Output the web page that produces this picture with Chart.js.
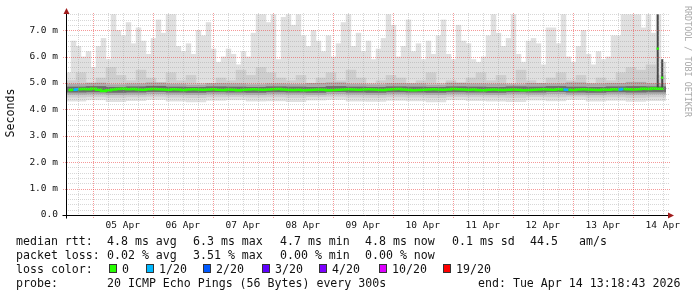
<!DOCTYPE html>
<html lang="en">
<head>
  <meta charset="UTF-8" />
  <title>Smokeping - median rtt</title>
  <script src="https://cdn.jsdelivr.net/npm/chart.js@4"></script>
  <style>
    body { margin: 0; background: #fff; }
    #wrap { position: relative; width: 697px; height: 297px; overflow: hidden; }
    #wrap canvas { position: absolute; left: 0; top: 0; }
    .t { position: absolute; font-family: "DejaVu Sans Mono", monospace; font-size: 11.6px;
         line-height: 14px; color: #111; white-space: pre; }
    .box { position: absolute; width: 6px; height: 7px; border: 1px solid #333; }
    #ytitle { left: -40px; top: 106px; width: 100px; text-align: center; transform: rotate(-90deg); }
    #credit { left: 633px; top: 54px; width: 110px; text-align: center; font-size: 8.4px;
              color: #a8a8a8; transform: rotate(90deg); }
  </style>
</head>

<body>
  <div id="wrap">
    <canvas id="smoke" width="697" height="297"></canvas>
    <div class="t" id="ytitle">Seconds</div>
    <div class="t" id="credit">RRDTOOL / TOBI OETIKER</div>

    <div class="t" style="left:16px;top:234px">median rtt:</div>
    <div class="t" style="left:107px;top:234px">4.8 ms avg</div>
    <div class="t" style="left:193px;top:234px">6.3 ms max</div>
    <div class="t" style="left:280px;top:234px">4.7 ms min</div>
    <div class="t" style="left:365px;top:234px">4.8 ms now</div>
    <div class="t" style="left:452px;top:234px">0.1 ms sd</div>
    <div class="t" style="left:530px;top:234px">44.5</div>
    <div class="t" style="left:579px;top:234px">am/s</div>

    <div class="t" style="left:16px;top:248px">packet loss:</div>
    <div class="t" style="left:107px;top:248px">0.02 % avg</div>
    <div class="t" style="left:193px;top:248px">3.51 % max</div>
    <div class="t" style="left:280px;top:248px">0.00 % min</div>
    <div class="t" style="left:365px;top:248px">0.00 % now</div>

    <div class="t" style="left:16px;top:262px">loss color:</div>
    <div id="losslegend"></div>

    <div class="t" style="left:16px;top:276px">probe:</div>
    <div class="t" style="left:107px;top:276px">20 ICMP Echo Pings (56 Bytes) every 300s</div>
    <div class="t" style="left:478px;top:276px">end: Tue Apr 14 13:18:43 2026</div>
  </div>

  <script>
    // time axis in hours since Apr 4 00:00, window = 10 days ending Apr 14 13:18:43
    const startHour = 13.31;
    const endHour = 253.31;
    const dayLabels = ["05 Apr", "06 Apr", "07 Apr", "08 Apr", "09 Apr",
                       "10 Apr", "11 Apr", "12 Apr", "13 Apr", "14 Apr"];

    // loss colours (smokeping defaults)
    const lossLabels = ["0", "1/20", "2/20", "3/20", "4/20", "10/20", "19/20"];
    const lossColors = ["#26ff00", "#00b8ff", "#0059ff", "#5e00ff", "#7e00ff", "#dd00ff", "#ff0000"];

    // 2h columns: max ping (top of smoke) and median rtt, in ms
    const maxRtt = [
      5.4, 6.6, 6.4, 6.0, 6.2, 5.6, 6.4, 6.7, 5.9, 7.6,
      7.0, 6.8, 7.3, 6.5, 7.1, 6.6, 6.1, 6.7, 7.4, 6.9,
      7.6, 7.6, 6.4, 6.2, 6.5, 6.1, 7.0, 6.8, 7.3, 6.3,
      5.8, 6.0, 6.3, 6.1, 5.7, 6.2, 6.0, 6.9, 7.6, 7.6,
      7.3, 7.6, 5.9, 7.5, 7.6, 7.2, 7.6, 6.8, 6.4, 7.0,
      6.6, 6.2, 6.8, 6.0, 6.5, 7.3, 7.6, 6.4, 6.9, 6.2,
      6.6, 5.9, 6.3, 6.7, 7.6, 7.2, 6.0, 6.4, 7.4, 6.2,
      6.5, 5.9, 6.6, 6.1, 6.8, 7.4, 6.1, 5.9, 7.2, 6.6,
      6.5, 5.9, 5.8, 6.0, 6.8, 7.6, 6.9, 6.4, 6.7, 7.6,
      6.1, 5.8, 6.6, 6.7, 6.5, 5.7, 7.1, 7.1, 6.5, 7.6,
      6.0, 5.8, 6.4, 7.0, 6.1, 5.7, 6.2, 5.9, 6.0, 6.8,
      6.8, 7.6, 7.6, 7.6, 7.6, 7.1, 7.6, 6.9, 7.6, 5.8
    ];
    const medianRtt = [
      4.73, 4.74, 4.76, 4.77, 4.76, 4.78, 4.74, 4.70, 4.72, 4.75,
      4.77, 4.78, 4.76, 4.77, 4.75, 4.74, 4.76, 4.77, 4.76, 4.75,
      4.74, 4.76, 4.75, 4.73, 4.75, 4.76, 4.75, 4.74, 4.75, 4.76,
      4.74, 4.73, 4.75, 4.74, 4.72, 4.74, 4.75, 4.76, 4.75, 4.74,
      4.75, 4.76, 4.77, 4.75, 4.74, 4.73, 4.74, 4.72, 4.73, 4.74,
      4.75, 4.74, 4.72, 4.73, 4.74, 4.75, 4.76, 4.75, 4.74, 4.75,
      4.76, 4.75, 4.74, 4.73, 4.75, 4.76, 4.77, 4.75, 4.74, 4.72,
      4.73, 4.74, 4.75, 4.76, 4.75, 4.74, 4.75, 4.77, 4.76, 4.75,
      4.74, 4.75, 4.73, 4.72, 4.74, 4.75, 4.74, 4.73, 4.74, 4.75,
      4.74, 4.72, 4.73, 4.74, 4.75, 4.76, 4.75, 4.74, 4.76, 4.75,
      4.74, 4.73, 4.75, 4.76, 4.75, 4.74, 4.73, 4.75, 4.74, 4.76,
      4.75, 4.77, 4.76, 4.75, 4.76, 4.78, 4.77, 4.79, 4.78, 4.78
    ];
    // columns (2h index) that lost 1 of 20 pings
    const lossColumns = [2, 100, 111];

    // 4h columns: top of the medium smoke band
    const midHigh = [
      5.1, 5.4, 5.0, 5.2, 5.6, 5.3, 5.1, 5.5, 5.2, 5.0,
      5.4, 5.1, 5.3, 5.0, 5.0, 5.2, 5.1, 5.5, 5.3, 5.6,
      5.4, 5.2, 5.1, 5.3, 5.0, 5.2, 5.4, 5.1, 5.5, 5.2,
      5.0, 5.1, 5.3, 5.2, 5.0, 5.1, 5.4, 5.0, 5.1, 5.0,
      5.2, 5.4, 5.1, 5.3, 5.0, 5.5, 5.1, 5.0, 5.2, 5.4,
      5.1, 5.3, 5.0, 5.2, 5.1, 5.4, 5.6, 5.5, 5.7, 5.3
    ];

    // 8h columns: lower smoke edges and the dark core around the median
    const minRtt = [
      4.30, 4.35, 4.28, 4.32, 4.36, 4.30, 4.27, 4.33, 4.35, 4.30,
      4.31, 4.28, 4.34, 4.36, 4.30, 4.29, 4.33, 4.31, 4.27, 4.35,
      4.32, 4.30, 4.28, 4.34, 4.31, 4.36, 4.30, 4.33, 4.29, 4.32
    ];
    const midLow = [
      4.45, 4.47, 4.44, 4.46, 4.48, 4.45, 4.43, 4.46, 4.47, 4.45,
      4.46, 4.44, 4.47, 4.48, 4.45, 4.44, 4.46, 4.45, 4.43, 4.47,
      4.46, 4.45, 4.44, 4.47, 4.46, 4.48, 4.45, 4.46, 4.44, 4.46
    ];
    const innerLow = [
      4.56, 4.57, 4.55, 4.56, 4.58, 4.56, 4.55, 4.57, 4.56, 4.55,
      4.57, 4.56, 4.55, 4.58, 4.56, 4.55, 4.57, 4.56, 4.55, 4.57,
      4.56, 4.55, 4.57, 4.56, 4.58, 4.56, 4.55, 4.57, 4.56, 4.57
    ];
    const innerHigh = [
      4.97, 5.01, 4.95, 4.98, 5.02, 4.97, 4.94, 4.99, 4.98, 4.95,
      4.98, 4.96, 5.00, 5.02, 4.97, 4.95, 4.99, 4.98, 4.94, 5.01,
      4.98, 4.97, 4.95, 5.00, 4.98, 5.02, 4.98, 5.00, 5.04, 4.99
    ];
    const coreLow = [
      4.64, 4.65, 4.63, 4.64, 4.66, 4.64, 4.63, 4.65, 4.64, 4.63,
      4.65, 4.64, 4.63, 4.66, 4.64, 4.63, 4.65, 4.64, 4.63, 4.65,
      4.64, 4.63, 4.65, 4.64, 4.66, 4.64, 4.63, 4.65, 4.64, 4.65
    ];
    const coreHigh = [
      4.86, 4.88, 4.85, 4.87, 4.89, 4.86, 4.85, 4.87, 4.86, 4.85,
      4.87, 4.86, 4.85, 4.88, 4.86, 4.85, 4.87, 4.86, 4.85, 4.87,
      4.86, 4.85, 4.87, 4.86, 4.88, 4.86, 4.85, 4.87, 4.88, 4.87
    ];

    // short outliers on the last day
    const spikeHours = [250.0, 251.8];
    const spikeLow = [4.75, 4.75];
    const spikeHigh = [7.6, 5.9];
    const spikeMedian = [6.3, 5.2];

    const yTickLabels = ["0.0", "1.0 m", "2.0 m", "3.0 m", "4.0 m", "5.0 m", "6.0 m", "7.0 m"];

    // loss legend row
    const boxX = [109, 146, 203, 262, 319, 379, 443];
    const lossLeg = document.getElementById("losslegend");
    lossLabels.forEach((lab, i) => {
      const b = document.createElement("div");
      b.className = "box";
      b.style.left = boxX[i] + "px";
      b.style.top = "264px";
      b.style.background = lossColors[i];
      lossLeg.appendChild(b);
      const t = document.createElement("div");
      t.className = "t";
      t.style.left = (boxX[i] + 13) + "px";
      t.style.top = "262px";
      t.textContent = lab;
      lossLeg.appendChild(t);
    });

    const colX = (step, i) => startHour + step * (i + 0.5);
    const pts = (arr, step) => arr.map((v, i) => ({ x: colX(step, i), y: v }));
    const band = (lo, hi, step) => lo.map((v, i) => ({ x: colX(step, i), y: [v, hi[i]] }));

    const barBase = { type: "bar", grouped: false, borderWidth: 0, borderSkipped: false, inflateAmount: 0 };

    const xTicks = [];
    for (let h = 18; h <= 252; h += 6) xTicks.push(h);
    const yTicks = [];
    for (let k = 0; k <= 38; k++) yTicks.push(k / 5);

    const isWhole = v => Math.abs(v - Math.round(v)) < 1e-6;
    const MAJOR = "rgba(235,50,50,0.5)";
    const MINOR = "rgba(150,150,150,0.38)";

    // rrdtool style dotted grid, drawn over the smoke
    const dottedGrid = {
      id: "dottedGrid",
      afterDatasetsDraw(chart) {
        const { ctx, chartArea: a, scales: { x, y } } = chart;
        const top = Math.round(a.top), bot = Math.round(a.bottom);
        const left = Math.round(a.left), right = Math.round(a.right) + 3;
        ctx.save();
        xTicks.forEach(h => {
          const major = h % 24 === 0;
          const px = Math.round(x.getPixelForValue(h));
          ctx.fillStyle = major ? MAJOR : MINOR;
          for (let py = top; py <= bot + (major ? 3 : 0); py += 2) ctx.fillRect(px, py, 1, 1);
        });
        yTicks.forEach(v => {
          const major = isWhole(v);
          const py = Math.round(y.getPixelForValue(v));
          ctx.fillStyle = major ? MAJOR : MINOR;
          for (let px = left - (major ? 3 : 0); px <= right; px += 2) ctx.fillRect(px, py, 1, 1);
        });
        ctx.restore();
      }
    };

    const arrows = {
      id: "arrows",
      afterDraw(chart) {
        const { ctx, chartArea: a } = chart;
        const L = Math.round(a.left) + 0.5;
        const B = Math.round(a.bottom) + 0.5;
        ctx.save();
        ctx.strokeStyle = "#000";
        ctx.lineWidth = 1;
        ctx.beginPath();
        ctx.moveTo(L, B + 3);
        ctx.lineTo(L, a.top - 1);
        ctx.moveTo(L - 4, B);
        ctx.lineTo(a.right + 3, B);
        ctx.stroke();
        ctx.fillStyle = "#a01c1c";
        ctx.beginPath();
        ctx.moveTo(L, a.top - 5);
        ctx.lineTo(L - 3, a.top + 1);
        ctx.lineTo(L + 3, a.top + 1);
        ctx.fill();
        ctx.beginPath();
        ctx.moveTo(a.right + 8, B);
        ctx.lineTo(a.right + 2, B - 3);
        ctx.lineTo(a.right + 2, B + 3);
        ctx.fill();
        ctx.restore();
      }
    };

    new Chart(document.getElementById("smoke"), {
      type: "bar",
      data: {
        datasets: [
          { ...barBase, data: pts(maxRtt, 2), base: 4.75, barThickness: 5.5, backgroundColor: "#e0e0e0", order: 20 },
          { ...barBase, data: pts(minRtt, 8), base: 4.8, barThickness: 20.5, backgroundColor: "#e0e0e0", order: 19 },
          { ...barBase, data: pts(midHigh, 4), base: 4.75, barThickness: 10.5, backgroundColor: "#cecece", order: 18 },
          { ...barBase, data: pts(midLow, 8), base: 4.8, barThickness: 20.5, backgroundColor: "#cecece", order: 17 },
          { ...barBase, data: band(innerLow, innerHigh, 8), barThickness: 20.5, backgroundColor: "#ababab", order: 16 },
          { ...barBase, data: band(coreLow, coreHigh, 8), barThickness: 20.5, backgroundColor: "#6c6c6c", order: 15 },
          { ...barBase, data: spikeHours.map((h, i) => ({ x: h, y: [spikeLow[i], spikeHigh[i]] })),
            barThickness: 2, backgroundColor: "#474747", order: 14 },
          {
            type: "line",
            data: pts(medianRtt, 2),
            stepped: "middle",
            borderWidth: 2.5,
            borderColor: lossColors[0],
            pointRadius: 0,
            segment: {
              borderColor: c => lossColumns.includes(c.p1DataIndex) ? lossColors[1] : lossColors[0]
            },
            order: 2
          },
          {
            type: "line",
            data: spikeHours.map((h, i) => ({ x: h, y: spikeMedian[i] })),
            showLine: false,
            pointStyle: "rect",
            pointRadius: 1.6,
            pointBorderWidth: 0,
            pointBackgroundColor: lossColors[0],
            order: 1
          }
        ]
      },
      options: {
        responsive: false,
        animation: false,
        events: [],
        devicePixelRatio: 1,
        layout: { padding: { left: 0, right: 31, top: 13, bottom: 62 } },
        plugins: { legend: { display: false }, tooltip: { enabled: false } },
        scales: {
          x: {
            type: "linear",
            min: startHour,
            max: endHour,
            offset: false,
            afterBuildTicks: s => { s.ticks = xTicks.map(v => ({ value: v })); },
            afterFit: s => { s.height = 20; },
            grid: { offset: false, tickLength: 3, color: "rgba(0,0,0,0)" },
            border: { display: false },
            ticks: {
              autoSkip: false,
              maxRotation: 0,
              padding: 2,
              color: "#111",
              font: { family: "DejaVu Sans Mono", size: 9.5 },
              callback: v => ((v - 12) % 24 === 0) ? dayLabels[(v - 36) / 24] : ""
            }
          },
          y: {
            min: 0,
            max: 7.65,
            afterBuildTicks: s => { s.ticks = yTicks.map(v => ({ value: v })); },
            afterFit: s => { s.width = 66; },
            grid: { tickLength: 3, color: "rgba(0,0,0,0)" },
            border: { display: false },
            ticks: {
              autoSkip: false,
              padding: 5,
              color: "#111",
              font: { family: "DejaVu Sans Mono", size: 9.5 },
              callback: v => isWhole(v) ? yTickLabels[Math.round(v)] : ""
            }
          }
        }
      },
      plugins: [dottedGrid, arrows]
    });
  </script>
</body>

</html>
